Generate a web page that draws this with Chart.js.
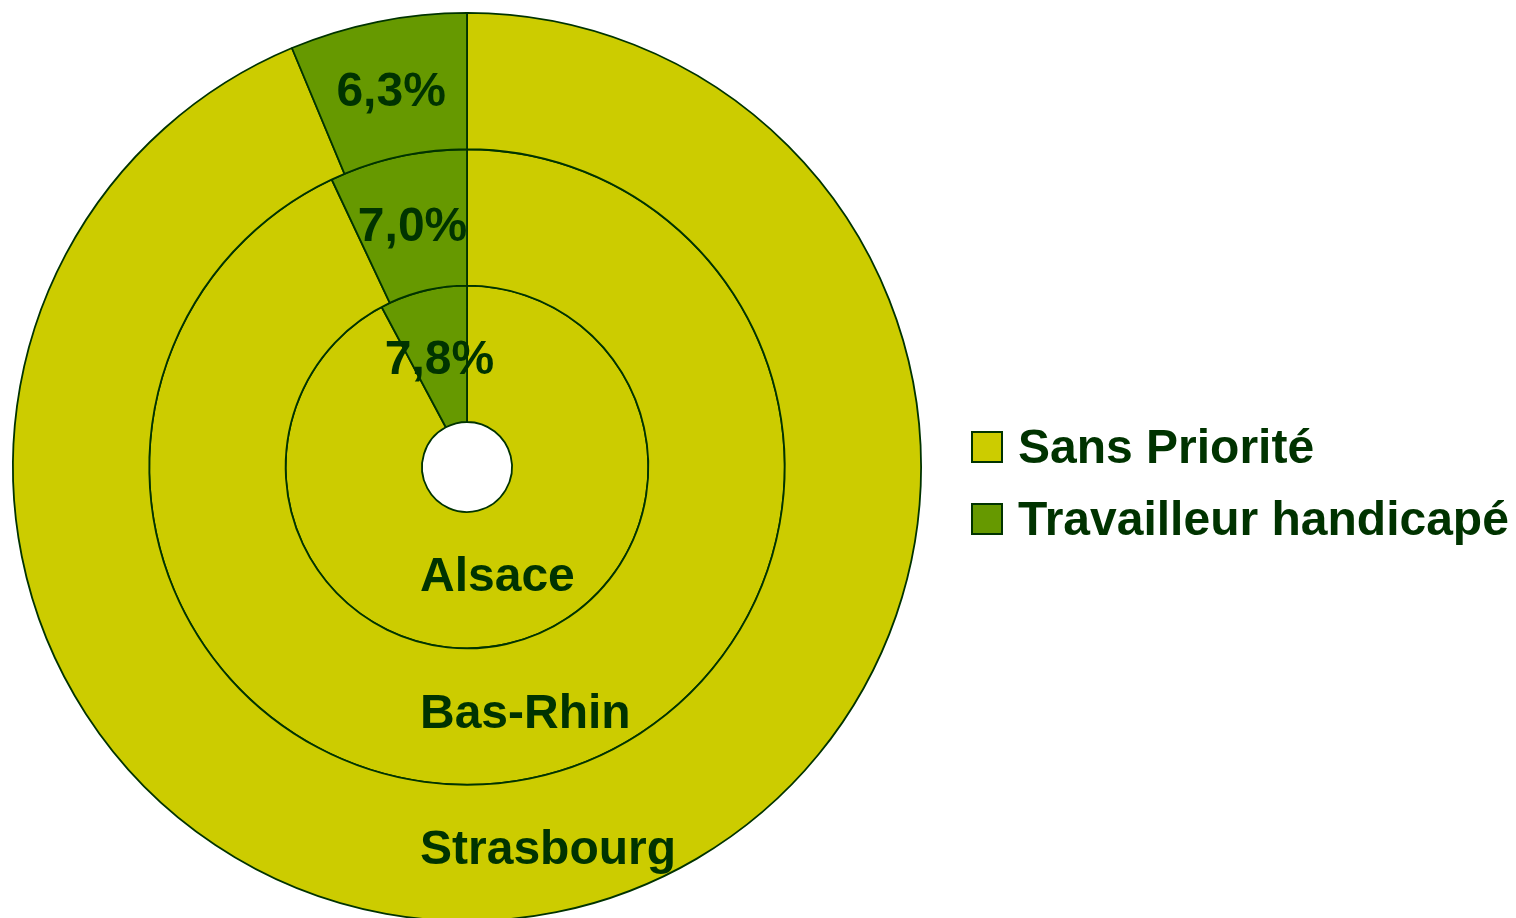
<!DOCTYPE html>
<html>
<head>
<meta charset="utf-8">
<script src="https://cdn.jsdelivr.net/npm/chart.js@4/dist/chart.umd.min.js"></script>
<style>
  html, body { margin: 0; padding: 0; background: #ffffff; overflow: hidden; width: 1516px; height: 918px; }
  #wrap { position: absolute; left: 0; top: 0; width: 1516px; height: 940px; }
</style>
</head>
<body>
<div id="wrap"><canvas id="c" width="1516" height="940"></canvas></div>
<script>
// ---- data ----
const categories = ['Sans Priorité', 'Travailleur handicapé'];
const ringNames = ['Strasbourg', 'Bas-Rhin', 'Alsace'];   // outer -> inner
const handicapValues = [6.3, 7.0, 7.8];                    // % Travailleur handicapé
const sansPrioriteValues = [93.7, 93.0, 92.2];             // % Sans Priorité
const percentLabels = ['6,3%', '7,0%', '7,8%'];

const colors = ['#CCCC00', '#669900'];
const borderCol = '#003300';
const textCol = '#003300';
const FONT = 'bold 48px "Liberation Sans", Arial, sans-serif';

const datasets = ringNames.map((name, i) => ({
  label: name,
  data: [sansPrioriteValues[i], handicapValues[i]],
  backgroundColor: colors,
  borderColor: borderCol,
  borderWidth: 1.8
}));

const labelPlugin = {
  id: 'labels',
  afterDatasetsDraw(chart) {
    const ctx = chart.ctx;
    ctx.save();
    ctx.font = FONT;
    ctx.fillStyle = textCol;
    ringNames.forEach((name, i) => {
      const meta = chart.getDatasetMeta(i);
      const arc = meta.data[1];
      const p = arc.tooltipPosition();
      ctx.textAlign = 'center';
      ctx.textBaseline = 'middle';
      ctx.fillText(percentLabels[i], p.x, p.y + 4);
      const props = arc.getProps(['x', 'y', 'innerRadius', 'outerRadius'], true);
      const mid = (props.innerRadius + props.outerRadius) / 2;
      ctx.textAlign = 'left';
      ctx.fillText(name, props.x - 47, props.y + mid - 2);
    });
    // legend
    const lx = 972, items = [{y: 432}, {y: 504}];
    items.forEach((it, k) => {
      ctx.fillStyle = colors[k];
      ctx.fillRect(lx, it.y, 30, 30);
      ctx.lineWidth = 2;
      ctx.strokeStyle = borderCol;
      ctx.strokeRect(lx, it.y, 30, 30);
      ctx.fillStyle = textCol;
      ctx.textAlign = 'left';
      ctx.textBaseline = 'middle';
      ctx.fillText(categories[k], 1018, it.y + 18);
    });
    ctx.restore();
  }
};

new Chart(document.getElementById('c'), {
  type: 'doughnut',
  data: { labels: categories, datasets },
  options: {
    responsive: false,
    animation: false,
    devicePixelRatio: 1,
    cutout: 45,
    layout: { padding: { left: 12, top: 12, right: 594, bottom: 18 } },
    plugins: { legend: { display: false }, tooltip: { enabled: false } }
  },
  plugins: [labelPlugin]
});
</script>
</body>
</html>
